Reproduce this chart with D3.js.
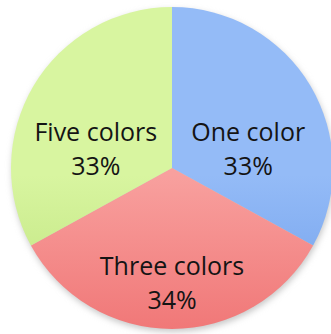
<!DOCTYPE html>
<html>
<head>
<meta charset="utf-8">
<script src="https://cdn.jsdelivr.net/npm/d3@7"></script>
<style>
  html, body { margin: 0; padding: 0; background: #fff; }
  svg { display: block; }
</style>
</head>
<body>
<svg id="chart" width="331" height="334"></svg>
<script>
// Share of designs by number of colours used
const categories = ["One color", "Three colors", "Five colors"];
const values = [33, 34, 33];
const labels = ["33%", "34%", "33%"];
// top / middle / bottom shades for each slice's vertical gradient
const topColors = ["#94bbf7", "#f8a09e", "#d8f5a0"];
const midColors = ["#6e9eea", "#f07676", "#bce27a"];
const bottomColors = ["#4276d2", "#dc3e3e", "#9dc54e"];

const W = 331, H = 334;
const cx = 172, cy = 168, r = 161;

const svg = d3.select("#chart");
const defs = svg.append("defs");

// soft drop shadow under the pie
const blur = defs.append("filter").attr("id", "shadow")
  .attr("x", "-10%").attr("y", "-10%").attr("width", "120%").attr("height", "120%");
blur.append("feGaussianBlur").attr("stdDeviation", 3);

categories.forEach((c, i) => {
  const g = defs.append("linearGradient")
    .attr("id", "grad" + i)
    .attr("gradientUnits", "userSpaceOnUse")
    .attr("x1", 0).attr("y1", cy - r)
    .attr("x2", 0).attr("y2", cy + r);
  g.append("stop").attr("offset", "0%").attr("stop-color", topColors[i]);
  g.append("stop").attr("offset", "50%").attr("stop-color", midColors[i]);
  g.append("stop").attr("offset", "100%").attr("stop-color", bottomColors[i]);
});

const pie = d3.pie().sort(null).value(d => d)
  .startAngle(0).endAngle(2 * Math.PI);
const arcs = pie(values);
const arc = d3.arc().innerRadius(0).outerRadius(r);
const labelArc = d3.arc().innerRadius(r * 0.55).outerRadius(r * 0.55);

const root = svg.append("g").attr("transform", `translate(${cx},${cy})`);

root.append("circle")
  .attr("cx", 1).attr("cy", 3).attr("r", r)
  .attr("fill", "#c8c8c8")
  .attr("filter", "url(#shadow)");

root.selectAll("path.slice")
  .data(arcs)
  .join("path")
  .attr("class", "slice")
  .attr("d", arc)
  .attr("fill", (d, i) => `url(#grad${i})`);

const labelG = root.selectAll("g.label")
  .data(arcs)
  .join("g")
  .attr("class", "label")
  .attr("transform", d => {
    const [x, y] = labelArc.centroid(d);
    return `translate(${x},${y})`;
  });

const font = "'Open Sans', Lato, sans-serif";

labelG.append("text")
  .attr("text-anchor", "middle")
  .attr("font-family", font)
  .attr("font-size", 25)
  .attr("fill", "#141414")
  .attr("y", 18)
  .text((d, i) => categories[i]);

labelG.append("text")
  .attr("text-anchor", "middle")
  .attr("font-family", font)
  .attr("font-size", 25)
  .attr("fill", "#141414")
  .attr("y", 52)
  .text((d, i) => labels[i]);
</script>
</body>
</html>
